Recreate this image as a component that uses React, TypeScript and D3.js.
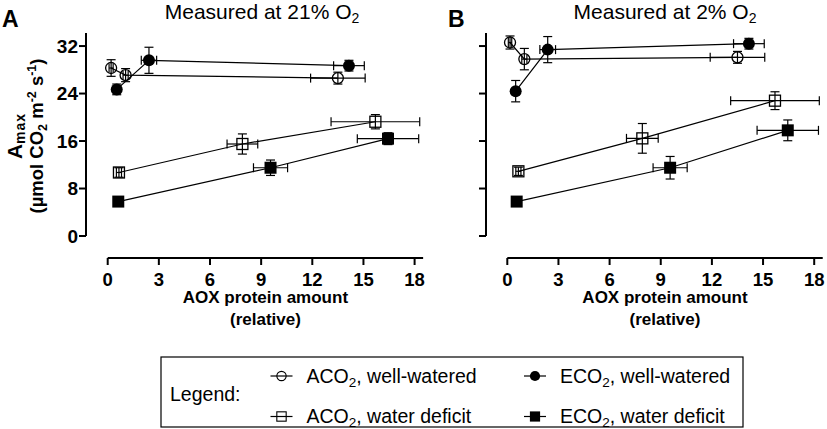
import React from "react";
import * as d3 from "d3";

type Pt = { x: number; y: number; xe: number; ye: number };

// Panel A: measured at 21% O2
const aco2WellWateredA: Pt[] = [
  { x: 0.2, y: 28.3, xe: 0.12, ye: 1.4 },
  { x: 1.05, y: 27.1, xe: 0.15, ye: 1.1 },
  { x: 13.5, y: 26.6, xe: 1.6, ye: 1.0 },
];
const eco2WellWateredA: Pt[] = [
  { x: 0.53, y: 24.7, xe: 0.1, ye: 0.9 },
  { x: 2.42, y: 29.6, xe: 0.45, ye: 2.2 },
  { x: 14.15, y: 28.7, xe: 0.9, ye: 0.9 },
];
const aco2WaterDeficitA: Pt[] = [
  { x: 0.66, y: 10.7, xe: 0.15, ye: 0.8 },
  { x: 7.9, y: 15.5, xe: 0.9, ye: 1.7 },
  { x: 15.7, y: 19.25, xe: 2.6, ye: 1.2 },
];
const eco2WaterDeficitA: Pt[] = [
  { x: 0.62, y: 5.8, xe: 0.1, ye: 0.5 },
  { x: 9.55, y: 11.5, xe: 1.0, ye: 1.3 },
  { x: 16.44, y: 16.4, xe: 1.8, ye: 1.0 },
];

// Panel B: measured at 2% O2
const aco2WellWateredB: Pt[] = [
  { x: 0.16, y: 32.6, xe: 0.1, ye: 1.1 },
  { x: 1.0, y: 29.8, xe: 0.15, ye: 1.8 },
  { x: 13.5, y: 30.1, xe: 1.6, ye: 1.0 },
];
const eco2WellWateredB: Pt[] = [
  { x: 0.49, y: 24.4, xe: 0.1, ye: 1.8 },
  { x: 2.37, y: 31.4, xe: 0.46, ye: 2.2 },
  { x: 14.17, y: 32.4, xe: 0.9, ye: 0.9 },
];
const aco2WaterDeficitB: Pt[] = [
  { x: 0.65, y: 10.9, xe: 0.15, ye: 0.7 },
  { x: 7.92, y: 16.45, xe: 0.93, ye: 2.5 },
  { x: 15.7, y: 22.8, xe: 2.6, ye: 1.5 },
];
const eco2WaterDeficitB: Pt[] = [
  { x: 0.55, y: 5.8, xe: 0.1, ye: 0.5 },
  { x: 9.55, y: 11.5, xe: 1.0, ye: 1.9 },
  { x: 16.45, y: 17.8, xe: 1.8, ye: 1.75 },
];

const xTicks = [0, 3, 6, 9, 12, 15, 18];
const yTicks = [0, 8, 16, 24, 32];
const panelLetters = ["A", "B"];
const panelO2 = ["21%", "2%"];

const FONT = "'Liberation Sans', Arial, Helvetica, sans-serif";

type Marker = "openCircle" | "filledCircle" | "openSquare" | "filledSquare";

const seriesMarkers: Marker[] = ["openCircle", "filledCircle", "openSquare", "filledSquare"];

function MarkerShape({ m, cx, cy }: { m: Marker; cx: number; cy: number }) {
  if (m === "openCircle")
    return <circle cx={cx} cy={cy} r={5.5} fill="none" stroke="#000" strokeWidth={1.3} />;
  if (m === "filledCircle") return <circle cx={cx} cy={cy} r={6} fill="#000" />;
  if (m === "openSquare")
    return <rect x={cx - 5.5} y={cy - 5.5} width={11} height={11} fill="none" stroke="#000" strokeWidth={1.3} />;
  return <rect x={cx - 6} y={cy - 6} width={12} height={12} fill="#000" />;
}

function Panel({ idx, series }: { idx: number; series: Pt[][] }) {
  const axX = idx === 0 ? 86 : 486;
  const x0 = idx === 0 ? 107.7 : 507.3;
  const x = d3.scaleLinear().domain([0, 18.5]).range([x0, x0 + 18.5 * 17.05]);
  const y = d3.scaleLinear().domain([0, 34.2]).range([236, 33]);
  const xAxisY = 258;
  const line = d3
    .line<Pt>()
    .x((d) => x(d.x))
    .y((d) => y(d.y));
  const cap = 4.5;
  const centerX = (x(0) + x(18.5)) / 2;
  return (
    <g>
      {/* y axis */}
      <line x1={axX} x2={axX} y1={y(34.2)} y2={y(0)} stroke="#000" strokeWidth={2} />
      {yTicks.map((t) => (
        <g key={t}>
          <line x1={axX - 7} x2={axX} y1={y(t)} y2={y(t)} stroke="#000" strokeWidth={2} />
          {idx === 0 && (
            <text
              x={axX - 8}
              y={y(t)}
              dy="0.36em"
              textAnchor="end"
              fontFamily={FONT}
              fontWeight="bold"
              fontSize={19}
            >
              {t}
            </text>
          )}
        </g>
      ))}
      {/* x axis */}
      <line x1={x(0)} x2={x(18.5)} y1={xAxisY} y2={xAxisY} stroke="#000" strokeWidth={2} />
      {xTicks.map((t) => (
        <g key={t}>
          <line x1={x(t)} x2={x(t)} y1={xAxisY} y2={xAxisY + 7} stroke="#000" strokeWidth={2} />
          <text x={x(t)} y={285.5} textAnchor="middle" fontFamily={FONT} fontWeight="bold" fontSize={18.5}>
            {t}
          </text>
        </g>
      ))}
      <text x={centerX} y={303} textAnchor="middle" fontFamily={FONT} fontWeight="bold" fontSize={17}>
        AOX protein amount
      </text>
      <text x={centerX} y={325} textAnchor="middle" fontFamily={FONT} fontWeight="bold" fontSize={17}>
        (relative)
      </text>
      {/* title */}
      <text x={idx === 0 ? 262 : 665} y={19} textAnchor="middle" fontFamily={FONT} fontSize={21}>
        Measured at {panelO2[idx]} O
        <tspan fontSize={14} dy={4}>
          2
        </tspan>
      </text>
      <text x={idx === 0 ? 2 : 448} y={27} fontFamily={FONT} fontWeight="bold" fontSize={23}>
        {panelLetters[idx]}
      </text>
      {/* series */}
      {series.map((s, si) => (
        <g key={si}>
          <path d={line(s) || ""} fill="none" stroke="#000" strokeWidth={1.2} />
          {s.map((p, pi) => (
            <g key={pi} stroke="#000" strokeWidth={1.2}>
              <line x1={x(p.x)} x2={x(p.x)} y1={y(p.y - p.ye)} y2={y(p.y + p.ye)} />
              <line x1={x(p.x) - cap} x2={x(p.x) + cap} y1={y(p.y - p.ye)} y2={y(p.y - p.ye)} />
              <line x1={x(p.x) - cap} x2={x(p.x) + cap} y1={y(p.y + p.ye)} y2={y(p.y + p.ye)} />
              <line x1={x(p.x - p.xe)} x2={x(p.x + p.xe)} y1={y(p.y)} y2={y(p.y)} />
              <line x1={x(p.x - p.xe)} x2={x(p.x - p.xe)} y1={y(p.y) - cap} y2={y(p.y) + cap} />
              <line x1={x(p.x + p.xe)} x2={x(p.x + p.xe)} y1={y(p.y) - cap} y2={y(p.y) + cap} />
            </g>
          ))}
          {s.map((p, pi) => (
            <MarkerShape key={"m" + pi} m={seriesMarkers[si]} cx={x(p.x)} cy={y(p.y)} />
          ))}
        </g>
      ))}
    </g>
  );
}

const legendLabels = ["ACO", "ECO", "ACO", "ECO"];
const legendSuffix = [", well-watered", ", well-watered", ", water deficit", ", water deficit"];
const legendOrder: Marker[] = ["openCircle", "filledCircle", "openSquare", "filledSquare"];

export default function App() {
  const legendPos = [
    { sx: 281.5, sy: 376, tx: 306.5, ty: 382.5 },
    { sx: 535, sy: 376, tx: 560, ty: 382.5 },
    { sx: 281.5, sy: 416.5, tx: 306.5, ty: 423 },
    { sx: 535, sy: 416.5, tx: 560, ty: 423 },
  ];
  return (
    <svg
      width={827}
      height={429}
      style={{ position: "absolute", left: 0, top: 0, background: "#fff" }}
    >
      <rect x={0} y={0} width={827} height={429} fill="#fff" />
      <Panel idx={0} series={[aco2WellWateredA, eco2WellWateredA, aco2WaterDeficitA, eco2WaterDeficitA]} />
      <Panel idx={1} series={[aco2WellWateredB, eco2WellWateredB, aco2WaterDeficitB, eco2WaterDeficitB]} />
      {/* y title */}
      <g transform="translate(22,136) rotate(-90)">
        <text textAnchor="middle" fontFamily={FONT} fontWeight="bold" fontSize={21}>
          A
          <tspan fontSize={14} dy={3} letterSpacing={1}>
            max
          </tspan>
        </text>
      </g>
      <g transform="translate(43,136) rotate(-90)">
        <text textAnchor="middle" fontFamily={FONT} fontWeight="bold" fontSize={18.5}>
          (µmol CO
          <tspan fontSize={12.5} dy={4}>
            2
          </tspan>
          <tspan dy={-4}> m</tspan>
          <tspan fontSize={12.5} dy={-7}>
            -2
          </tspan>
          <tspan dy={7}> s</tspan>
          <tspan fontSize={12.5} dy={-7}>
            -1
          </tspan>
          <tspan dy={7}>)</tspan>
        </text>
      </g>
      {/* legend */}
      <rect x={161} y={357} width={582} height={70} fill="none" stroke="#000" strokeWidth={1.2} />
      <text x={170} y={401} fontFamily={FONT} fontSize={19.5}>
        Legend:
      </text>
      {legendOrder.map((m, i) => {
        const p = legendPos[i];
        return (
          <g key={i}>
            <line x1={p.sx - 11} x2={p.sx + 11} y1={p.sy} y2={p.sy} stroke="#000" strokeWidth={1.2} />
            <g transform={`translate(${p.sx},${p.sy}) scale(0.85) translate(${-p.sx},${-p.sy})`}>
              <MarkerShape m={m} cx={p.sx} cy={p.sy} />
            </g>
            <text x={p.tx} y={p.ty} fontFamily={FONT} fontSize={19.5}>
              {legendLabels[i]}
              <tspan fontSize={13.5} dy={4}>
                2
              </tspan>
              <tspan dy={-4}>{legendSuffix[i]}</tspan>
            </text>
          </g>
        );
      })}
    </svg>
  );
}
